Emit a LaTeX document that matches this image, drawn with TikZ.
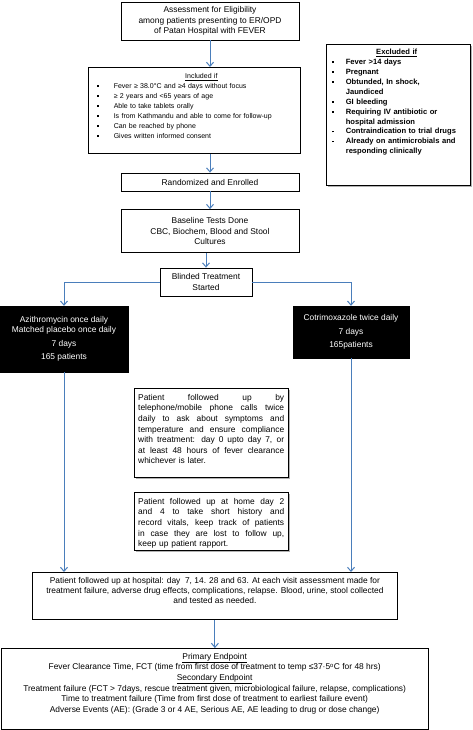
\documentclass[tikz,border=0pt]{standalone}
\usepackage{fontspec}
\setmainfont{Liberation Sans}
\usetikzlibrary{arrows.meta,shadows}
\definecolor{arrowblue}{HTML}{4A7EBB}
\newcommand{\bul}{\raisebox{1.6pt}{\rule{1.6pt}{1.6pt}}}
\newcommand{\jl}[1]{{\spaceskip=0pt\xspaceskip=0pt\makebox[146pt][s]{#1}}\\}
\begin{document}
\begin{tikzpicture}[x=1pt,y=-1pt,
  every node/.style={font=\fontsize{8.4}{10.2}\selectfont, inner sep=0pt},
  box/.style={draw, line width=0.8pt, fill=white, align=center},
  sbox/.style={box, drop shadow={shadow xshift=1.2pt, shadow yshift=-1.2pt, fill=gray!60, opacity=1}},
  blk/.style={draw, fill=black, text=white, align=center},
  arr/.style={draw=arrowblue, line width=1pt, -{Straight Barb[length=4pt,width=7pt,line width=1pt]}}]
\useasboundingbox[fill=white] (0,0) rectangle (473,730);

% boxes
\node[box, minimum width=178pt, minimum height=38pt] (assess) at (210,21)
  {Assessment for Eligibility\\among patients presenting to ER/OPD\\of Patan Hospital with FEVER};

\node[box, anchor=north west, minimum width=212pt, minimum height=86pt] (incl) at (88,67) {};
\node[anchor=north west, text width=200pt, align=left, font=\fontsize{7}{10}\selectfont] (incltxt) at ([xshift=9pt,yshift=-6pt]incl.north west) {%
  \hspace*{88pt}\underline{Included if}\\
  \bul\hspace{15pt}Fever ≥ 38.0°C and ≥4 days without focus\\
  \bul\hspace{15pt}≥ 2 years and <65 years of age\\
  \bul\hspace{15pt}Able to take tablets orally\\
  \bul\hspace{15pt}Is from Kathmandu and able to come for follow-up\\
  \bul\hspace{15pt}Can be reached by phone\\
  \bul\hspace{15pt}Gives written informed consent};

\node[sbox, anchor=north west, minimum width=144pt, minimum height=141pt] (excl) at (326,44) {};
\node[anchor=north west, text width=136pt, align=left, font=\fontsize{7.6}{9.9}\selectfont\bfseries] (excltxt) at ([xshift=6pt,yshift=-5pt]excl.north west) {%
  \hspace*{44pt}\underline{Excluded if}\\
  \bul\hspace{12pt}Fever >14 days\\
  \bul\hspace{12pt}Pregnant\\
  \bul\hspace{12pt}Obtunded, In shock,\\
  \hspace*{13.6pt}Jaundiced\\
  \bul\hspace{12pt}GI bleeding\\
  \bul\hspace{12pt}Requiring IV antibiotic or\\
  \hspace*{13.6pt}hospital admission\\
  \bul\hspace{12pt}Contraindication to trial drugs\\
  \bul\hspace{12pt}Already on antimicrobials and\\
  \hspace*{13.6pt}responding clinically};

\node[box, minimum width=178pt, minimum height=18pt] (rand) at (210,182) {Randomized and Enrolled};
\node[box, minimum width=178pt, minimum height=43pt] (base) at (210,231)
  {Baseline Tests Done\\CBC, Biochem, Blood and Stool\\Cultures};
\node[box, minimum width=92pt, minimum height=28pt] (blind) at (206,282)
  {Blinded Treatment\\Started};

\node[blk, minimum width=128pt, minimum height=66pt] (azi) at (64,339)
  {Azithromycin once daily\\Matched placebo once daily\\[3.5pt]7 days\\[3.5pt]165 patients};
\node[blk, minimum width=116pt, minimum height=52pt] (cotri) at (351,332)
  {Cotrimoxazole twice daily\\[3.5pt]7 days\\[3.5pt]165patients};

\node[sbox, anchor=north west, minimum width=154pt, minimum height=89pt] (phone) at (134,388) {};
\node[anchor=north west, text width=146pt, align=left, font=\fontsize{8.4}{10.6}\selectfont] (phonetxt) at ([xshift=4pt,yshift=-6pt]phone.north west) {%
  \jl{Patient followed up by}
  \jl{telephone/mobile phone calls twice}
  \jl{daily to ask about symptoms and}
  \jl{temperature and ensure compliance}
  \jl{with treatment: day 0 upto day 7, or}
  \jl{at least 48 hours of fever clearance}
  whichever is later.};

\node[sbox, anchor=north west, minimum width=154pt, minimum height=58pt] (home) at (134,492) {};
\node[anchor=north west, text width=146pt, align=left, font=\fontsize{8.4}{10.6}\selectfont] (hometxt) at ([xshift=4pt,yshift=-6pt]home.north west) {%
  \jl{Patient followed up at home day 2}
  \jl{and 4 to take short history and}
  \jl{record vitals, keep track of patients}
  \jl{in case they are lost to follow up,}
  keep up patient rapport.};

\node[box, anchor=north west, minimum width=365pt, minimum height=47pt] (hosp) at (32,572) {};
\node[anchor=north, align=center] (hosptxt) at ([yshift=-5pt]hosp.north)
  {Patient followed up at hospital: day\ \ 7, 14. 28 and 63. At each visit assessment made for\\
   treatment failure, adverse drug effects, complications, relapse. Blood, urine, stool collected\\
   and tested as needed.};

\node[box, anchor=north west, minimum width=427.5pt, minimum height=81pt] (endp) at (0.5,648) {};
\node[anchor=north, align=center, font=\fontsize{8.4}{10.6}\selectfont] (endptxt) at ([yshift=-5pt]endp.north)
  {\underline{Primary Endpoint}\\
   Fever Clearance Time, FCT (time from first dose of treatment to temp ≤37·5\textsuperscript{o}C for 48 hrs)\\
   \underline{Secondary Endpoint}\\
   Treatment failure (FCT > 7days, rescue treatment given, microbiological failure, relapse, complications)\\
   Time to treatment failure (Time from first dose of treatment to earliest failure event)\\
   Adverse Events (AE): (Grade 3 or 4 AE, Serious AE, AE leading to drug or dose change)};

% connectors
\draw[arr] (assess.south) -- (assess.south |- incl.north);
\draw[arr] (rand.north |- incl.south) -- (rand.north);
\draw[arr] (rand.south) -- (base.north);
\draw[arr] (blind.north |- base.south) -- (blind.north);
\draw[arr] (blind.west) -| (azi.north);
\draw[arr] (blind.east) -| (cotri.north);
\draw[arr] (azi.south) -- (azi.south |- hosp.north);
\draw[arr] (cotri.south) -- (cotri.south |- hosp.north);
\draw[arr] (hosp.south) -- (hosp.south |- endp.north);
\end{tikzpicture}
\end{document}
